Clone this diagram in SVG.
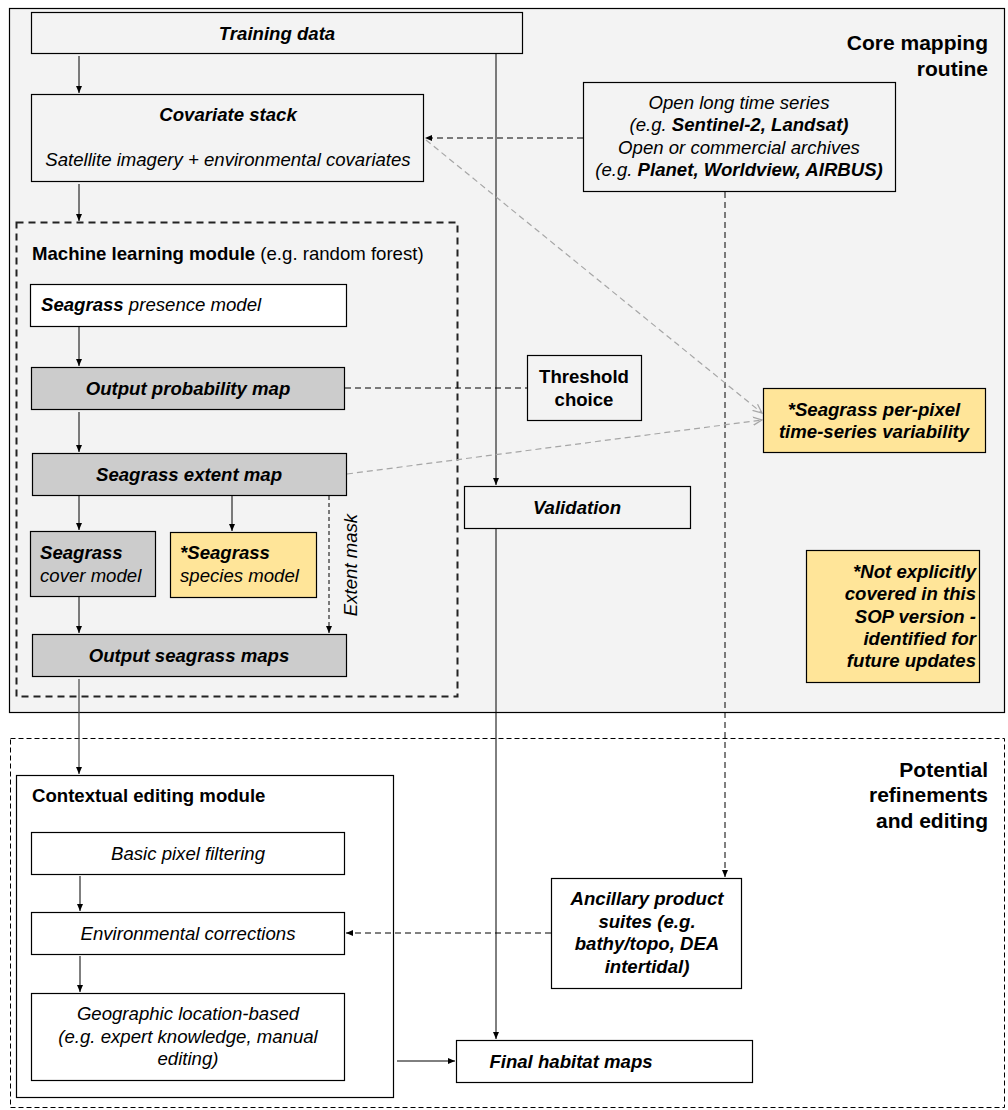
<svg xmlns="http://www.w3.org/2000/svg" width="1008" height="1110" viewBox="0 0 1008 1110">
<style>
text{font-family:"Liberation Sans",Arial,sans-serif;font-size:18.6px;fill:#000}
.bi{font-weight:bold;font-style:italic}
.i{font-style:italic}
.b{font-weight:bold}
.hd{font-weight:bold;font-size:21px}
.box{stroke:#000;stroke-width:1.2}
.lt{fill:#f3f3f3}
.wh{fill:#fff}
.gr{fill:#cccccc}
.ye{fill:#ffe599}
.c{fill:none;stroke:#000;stroke-width:1}
.d{fill:none;stroke:#000;stroke-width:1;stroke-dasharray:6 4}
.g{fill:none;stroke:#a6a6a6;stroke-width:1.2;stroke-dasharray:6 4}
</style>
<defs>
<marker id="ar" markerWidth="8" markerHeight="8" refX="7" refY="4" orient="auto" markerUnits="userSpaceOnUse"><path d="M0,1 L7,4 L0,7 z" fill="#000"/></marker>
<marker id="ag" markerWidth="10" markerHeight="10" refX="9" refY="5" orient="auto" markerUnits="userSpaceOnUse"><path d="M0,1 L9,5 L0,9" fill="none" stroke="#a6a6a6" stroke-width="1.2"/></marker>
</defs>
<rect width="1008" height="1110" fill="#fff"/>
<g id="core-group">
<rect x="9.5" y="8.5" width="995" height="704" class="box lt"/>
<text class="hd" x="988" y="50" text-anchor="end">Core mapping</text>
<text class="hd" x="988" y="76" text-anchor="end">routine</text>
</g>
<g id="refine-group">
<rect x="10.5" y="738.5" width="994" height="369" fill="none" stroke="#000" stroke-width="1" stroke-dasharray="5 3"/>
<text class="hd" x="988" y="777" text-anchor="end">Potential</text>
<text class="hd" x="988" y="802" text-anchor="end">refinements</text>
<text class="hd" x="988" y="828" text-anchor="end">and editing</text>
</g>
<g id="ml-module">
<rect x="16.5" y="222.5" width="441" height="474" fill="none" stroke="#222" stroke-width="2" stroke-dasharray="7 5"/>
<text x="32" y="260"><tspan class="b">Machine learning module</tspan> (e.g. random forest)</text>
</g>
<g id="contextual-module">
<rect x="16.5" y="775.5" width="377" height="322" class="box wh"/>
<text class="b" x="32" y="802">Contextual editing module</text>
</g>
<g id="connectors">
<line x1="79" y1="56" x2="79" y2="93" class="c" marker-end="url(#ar)"/>
<line x1="496" y1="53" x2="496" y2="485" class="c" marker-end="url(#ar)"/>
<line x1="79" y1="184" x2="79" y2="221" class="c" marker-end="url(#ar)"/>
<line x1="583" y1="138" x2="425" y2="138" class="d" marker-end="url(#ar)"/>
<line x1="725" y1="192" x2="725" y2="877" class="d" marker-end="url(#ar)"/>
<line x1="426" y1="140" x2="762" y2="413" class="g" marker-end="url(#ag)"/>
<line x1="347" y1="474" x2="762" y2="420" class="g" marker-end="url(#ag)"/>
<line x1="345" y1="388" x2="527" y2="388" class="d"/>
<line x1="79" y1="327" x2="79" y2="366" class="c" marker-end="url(#ar)"/>
<line x1="79" y1="412" x2="79" y2="452" class="c" marker-end="url(#ar)"/>
<line x1="79" y1="496" x2="79" y2="530" class="c" marker-end="url(#ar)"/>
<line x1="232" y1="496" x2="232" y2="531" class="c" marker-end="url(#ar)"/>
<line x1="329" y1="496" x2="329" y2="633" fill="none" stroke="#000" stroke-width="1" stroke-dasharray="4 3" marker-end="url(#ar)"/>
<line x1="79" y1="597" x2="79" y2="633" class="c" marker-end="url(#ar)"/>
<line x1="79" y1="679" x2="79" y2="774" fill="none" stroke="#444" stroke-width="1.2" marker-end="url(#ar)"/>
<line x1="496" y1="529" x2="496" y2="1039" class="c" marker-end="url(#ar)"/>
<line x1="80" y1="876" x2="80" y2="911" class="c" marker-end="url(#ar)"/>
<line x1="80" y1="956" x2="80" y2="992" class="c" marker-end="url(#ar)"/>
<line x1="551" y1="933" x2="346" y2="933" class="d" marker-end="url(#ar)"/>
<line x1="397" y1="1061" x2="455" y2="1061" class="c" marker-end="url(#ar)"/>
<text class="i" transform="translate(357,565) rotate(-90)" text-anchor="middle">Extent mask</text>
</g>
<g id="training-data">
<rect x="31.5" y="12.5" width="491" height="41" class="box lt"/>
<text class="bi" x="277" y="40" text-anchor="middle">Training data</text>
</g>
<g id="covariate-stack">
<rect x="31.5" y="94.5" width="392" height="87" class="box lt"/>
<text class="bi" x="228" y="121" text-anchor="middle">Covariate stack</text>
<text class="i" x="228" y="166" text-anchor="middle">Satellite imagery + environmental covariates</text>
</g>
<g id="open-series">
<rect x="583.5" y="82.5" width="312" height="109" class="box lt"/>
<text class="i" x="739" y="109" text-anchor="middle">Open long time series</text>
<text class="i" x="739" y="131" text-anchor="middle">(e.g. <tspan class="b">Sentinel-2, Landsat)</tspan></text>
<text class="i" x="739" y="154" text-anchor="middle">Open or commercial archives</text>
<text class="i" x="739" y="176" text-anchor="middle">(e.g. <tspan class="b">Planet, Worldview, AIRBUS)</tspan></text>
</g>
<g id="presence-model">
<rect x="30.5" y="284.5" width="316" height="42" class="box wh"/>
<text x="41" y="311"><tspan class="bi">Seagrass</tspan><tspan class="i"> presence model</tspan></text>
</g>
<g id="output-probability">
<rect x="31.5" y="367.5" width="313" height="42" class="box gr"/>
<text class="bi" x="188" y="395" text-anchor="middle">Output probability map</text>
</g>
<g id="threshold-choice">
<rect x="527.5" y="355.5" width="114" height="65" class="box lt"/>
<text class="b" x="584" y="383" text-anchor="middle">Threshold</text>
<text class="b" x="584" y="406" text-anchor="middle">choice</text>
</g>
<g id="per-pixel">
<rect x="763.5" y="388.5" width="222" height="64" class="box ye"/>
<text class="bi" x="874" y="416" text-anchor="middle">*Seagrass per-pixel</text>
<text class="bi" x="874" y="438" text-anchor="middle">time-series variability</text>
</g>
<g id="extent-map">
<rect x="32.5" y="453.5" width="314" height="42" class="box gr"/>
<text class="bi" x="189" y="481" text-anchor="middle">Seagrass extent map</text>
</g>
<g id="validation">
<rect x="464.5" y="486.5" width="226" height="42" class="box lt"/>
<text class="bi" x="577" y="514" text-anchor="middle">Validation</text>
</g>
<g id="cover-model">
<rect x="30.5" y="531.5" width="125" height="65" class="box gr"/>
<text class="bi" x="40" y="559">Seagrass</text>
<text class="i" x="40" y="582">cover model</text>
</g>
<g id="species-model">
<rect x="170.5" y="532.5" width="146" height="65" class="box ye"/>
<text class="bi" x="180" y="559">*Seagrass</text>
<text class="i" x="180" y="582">species model</text>
</g>
<g id="output-seagrass">
<rect x="32.5" y="634.5" width="314" height="42" class="box gr"/>
<text class="bi" x="189" y="662" text-anchor="middle">Output seagrass maps</text>
</g>
<g id="note">
<rect x="806.5" y="550.5" width="173" height="132" class="box ye"/>
<text class="bi" x="976" y="578" text-anchor="end">*Not explicitly</text>
<text class="bi" x="976" y="600" text-anchor="end">covered in this</text>
<text class="bi" x="976" y="623" text-anchor="end">SOP version -</text>
<text class="bi" x="976" y="645" text-anchor="end">identified for</text>
<text class="bi" x="976" y="667" text-anchor="end">future updates</text>
</g>
<g id="basic-filtering">
<rect x="31.5" y="832.5" width="313" height="42" class="box wh"/>
<text class="i" x="188" y="860" text-anchor="middle">Basic pixel filtering</text>
</g>
<g id="env-corrections">
<rect x="31.5" y="912.5" width="313" height="42" class="box wh"/>
<text class="i" x="188" y="940" text-anchor="middle">Environmental corrections</text>
</g>
<g id="geographic">
<rect x="31.5" y="993.5" width="313" height="87" class="box wh"/>
<text class="i" x="188" y="1020" text-anchor="middle">Geographic location-based</text>
<text class="i" x="188" y="1043" text-anchor="middle">(e.g. expert knowledge, manual</text>
<text class="i" x="188" y="1065" text-anchor="middle">editing)</text>
</g>
<g id="ancillary">
<rect x="551.5" y="878.5" width="190" height="110" class="box wh"/>
<text class="bi" x="647" y="905" text-anchor="middle">Ancillary product</text>
<text class="bi" x="647" y="928" text-anchor="middle">suites (e.g.</text>
<text class="bi" x="647" y="950" text-anchor="middle">bathy/topo, DEA</text>
<text class="bi" x="647" y="973" text-anchor="middle">intertidal)</text>
</g>
<g id="final-maps">
<rect x="456.5" y="1040.5" width="296" height="42" class="box wh"/>
<text class="bi" x="571" y="1068" text-anchor="middle">Final habitat maps</text>
</g>
</svg>
